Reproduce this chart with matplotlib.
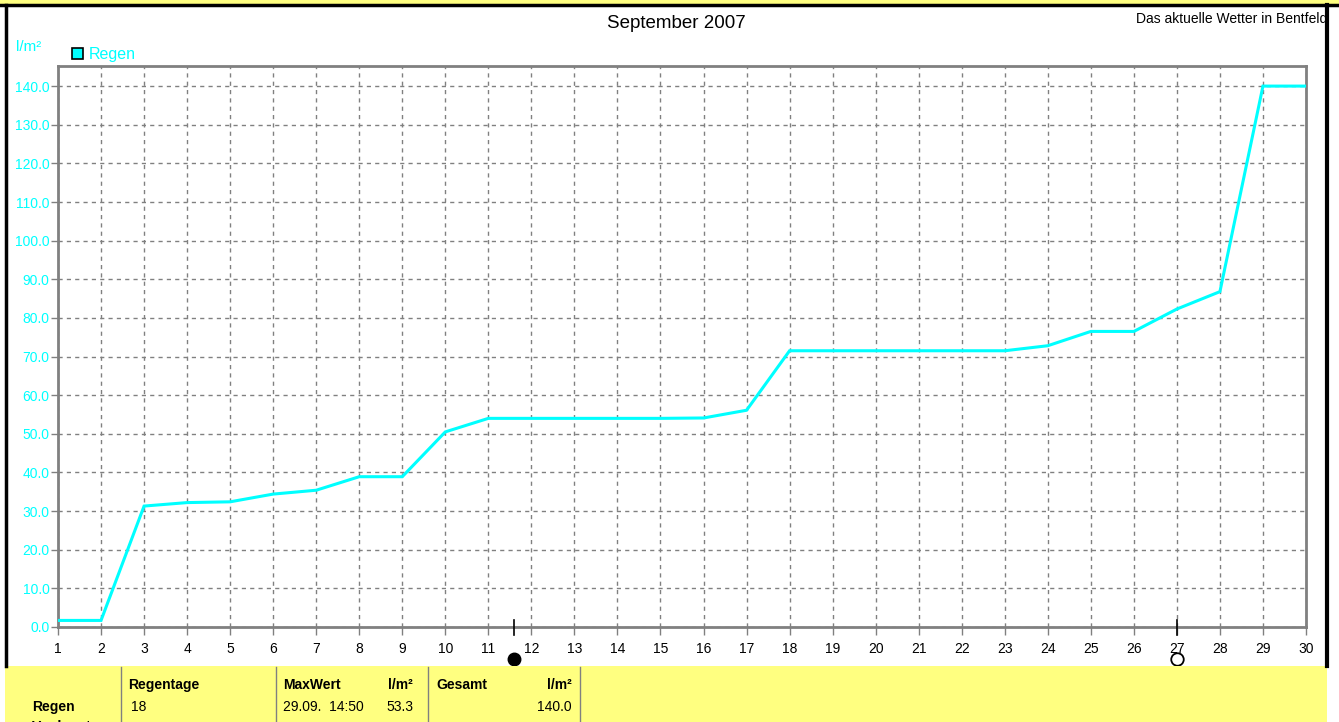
import matplotlib.pyplot as plt
from matplotlib.patches import Rectangle
import numpy as np

# Regen September 2007, cumulative l/m2 per day
days = list(range(1, 31))
regen = [1.7, 1.7, 31.3, 32.2, 32.4, 34.4, 35.4, 38.9, 38.9, 50.5,
         54.0, 54.0, 54.0, 54.0, 54.0, 54.1, 56.1, 71.5, 71.5, 71.5,
         71.5, 71.5, 71.5, 72.8, 76.5, 76.5, 82.3, 86.8, 140.0, 140.0]
y_ticks = np.arange(0, 141, 10)
new_moon = 11.6
full_moon = 27.0

W, H = 1339, 722
CYAN = "#00FFFF"
GRAY = "#808080"
YELLOW = "#FFFF80"
FONT = "Liberation Sans"


def fx(x):
    return x / W


def fy(y):
    return 1 - y / H


fig = plt.figure(figsize=(W / 100, H / 100), dpi=100)
fig.patch.set_facecolor("white")

# ---- plot area ----
ax = fig.add_axes([fx(58), fy(627), (1306 - 58) / W, (627 - 66) / H])
ax.plot(days, regen, color=CYAN, linewidth=2.2, solid_joinstyle="miter", zorder=3)
ax.set_xlim(1, 30)
ax.set_ylim(0, 145.2)

ax.set_xticks(days)
ax.set_xticklabels([str(d) for d in days], fontsize=10, family=FONT)
ax.set_yticks(y_ticks)
ax.set_yticklabels([f"{v:.1f}" for v in y_ticks], fontsize=10, family=FONT, color=CYAN)
ax.tick_params(axis="x", length=6, width=1, color=GRAY, pad=5)
ax.tick_params(axis="y", length=5, width=1, color=GRAY, pad=1)

ax.grid(True, color=GRAY, linestyle=(0, (3, 3)), linewidth=1)
for s in ax.spines.values():
    s.set_color(GRAY)
    s.set_linewidth(2)

# moon phases
tr = ax.get_xaxis_transform()
for m in (new_moon, full_moon):
    ax.plot([m, m], [-0.014, 0.013], color="black", linewidth=1.2, transform=tr, clip_on=False, zorder=5)
ax.plot([new_moon], [-0.057], marker="o", markersize=9, color="black", transform=tr, clip_on=False)
ax.plot([full_moon], [-0.057], marker="o", markersize=9, markerfacecolor="white",
        markeredgecolor="black", markeredgewidth=1.3, transform=tr, clip_on=False)

# ---- texts at top ----
fig.text(fx(676), fy(24), "September 2007", ha="center", va="center", fontsize=13.5, family=FONT)
fig.text(fx(1327), fy(19), "Das aktuelle Wetter in Bentfeld", ha="right", va="center",
         fontsize=10, family=FONT)
fig.text(fx(16), fy(47), "l/m²", ha="left", va="center", fontsize=11, family=FONT, color=CYAN)
fig.patches.append(Rectangle((fx(72), fy(59)), 11 / W, 11 / H, transform=fig.transFigure,
                             facecolor=CYAN, edgecolor="black", linewidth=1.2))
fig.text(fx(89), fy(55), "Regen", ha="left", va="center", fontsize=11.5, family=FONT, color=CYAN)

# ---- frame / top strip ----
fig.patches.append(Rectangle((0, fy(4)), 1, 4 / H, transform=fig.transFigure,
                             facecolor=YELLOW, edgecolor="none"))
fig.add_artist(plt.Line2D([0, 1], [fy(5), fy(5)], color="black", linewidth=2.5))
fig.add_artist(plt.Line2D([fx(6), fx(6)], [fy(5), fy(666)], color="black", linewidth=2.5))
fig.add_artist(plt.Line2D([fx(1327), fx(1327)], [fy(5), fy(666)], color="black", linewidth=3))

# ---- bottom table ----
fig.patches.append(Rectangle((fx(5), 0), (1327 - 5) / W, (722 - 666) / H, transform=fig.transFigure,
                             facecolor=YELLOW, edgecolor="none"))
for xd in (121, 276, 428, 580):
    fig.add_artist(plt.Line2D([fx(xd), fx(xd)], [0, fy(667)], color=GRAY, linewidth=1))

hdr = dict(fontsize=10, family=FONT, fontweight="bold", va="center")
val = dict(fontsize=10, family=FONT, va="center")
fig.text(fx(128), fy(685), "Regentage", ha="left", **hdr)
fig.text(fx(283), fy(685), "MaxWert", ha="left", **hdr)
fig.text(fx(413), fy(685), "l/m²", ha="right", **hdr)
fig.text(fx(436), fy(685), "Gesamt", ha="left", **hdr)
fig.text(fx(572), fy(685), "l/m²", ha="right", **hdr)

fig.text(fx(32), fy(707), "Regen", ha="left", **hdr)
fig.text(fx(131), fy(707), "18", ha="left", **val)
fig.text(fx(283), fy(707), "29.09.  14:50", ha="left", **val)
fig.text(fx(413), fy(707), "53.3", ha="right", **val)
fig.text(fx(572), fy(707), "140.0", ha="right", **val)
# next table row, cut off by the picture edge as in the original
fig.text(fx(32), fy(727), "Verdunstung", ha="left", **hdr)

fig.savefig("out.png", dpi=100)
